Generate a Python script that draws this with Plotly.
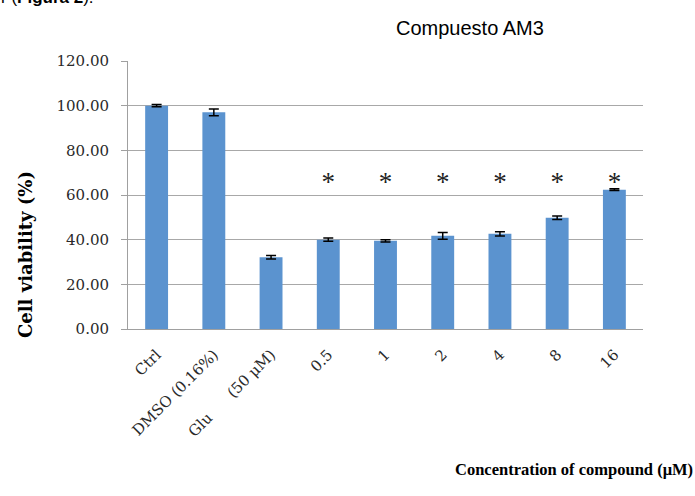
import plotly.graph_objects as go

categories = ["Ctrl", "DMSO (0.16%)", "Glu\u00a0\u00a0\u00a0\u00a0\u00a0\u00a0(50 μM)", "0.5", "1", "2", "4", "8", "16"]
viability = [100.0, 97.0, 32.1, 40.0, 39.5, 41.7, 42.6, 49.8, 62.4]
errors = [0.5, 1.5, 0.8, 0.7, 0.5, 1.5, 1.0, 0.8, 0.4]
star_categories = ["0.5", "1", "2", "4", "8", "16"]
star_y = [65.0, 65.0, 65.0, 65.0, 65.0, 65.0]
y_ticks = [0, 20, 40, 60, 80, 100, 120]

serif = "DejaVu Serif, Liberation Serif, serif"
serif_title = "Liberation Serif, DejaVu Serif, serif"
sans = "Liberation Sans, Arial, sans-serif"

fig = go.Figure()
fig.add_trace(go.Bar(
    x=categories, y=viability,
    marker=dict(color="#5B93CF", line=dict(width=0)),
    width=0.4,
    error_y=dict(type="data", array=errors, visible=True, color="black", thickness=1.5, width=5),
    showlegend=False,
))
fig.add_trace(go.Scatter(
    x=star_categories, y=star_y, mode="text", text=["*"] * len(star_categories),
    textposition="middle center",
    textfont=dict(family="Liberation Serif, serif", size=27, color="#222"),
    showlegend=False,
))

fig.update_layout(
    width=695, height=496,
    margin=dict(l=128, r=52, t=61, b=167),
    paper_bgcolor="white", plot_bgcolor="white",
    bargap=0.6,
    xaxis=dict(
        type="category", categoryorder="array", categoryarray=categories,
        tickangle=-45, showline=True, linecolor="#A0A0A0", linewidth=1,
        ticks="", tickfont=dict(family=serif, size=15, color="#2a2a2a"),
        ticklabelstandoff=10,
        showgrid=False,
    ),
    yaxis=dict(
        range=[0, 120], tickvals=y_ticks, tickformat=".2f",
        showline=True, linecolor="#A0A0A0", linewidth=1,
        ticks="outside", ticklen=6, tickcolor="#A0A0A0",
        ticklabelstandoff=9,
        showgrid=True, gridcolor="#A8A8A8", gridwidth=1,
        tickfont=dict(family=serif, size=15, color="#2a2a2a"),
        zeroline=False,
    ),
    annotations=[
        dict(text="Compuesto AM3", x=0.664, y=1.123, xref="paper", yref="paper",
             showarrow=False, font=dict(family=sans, size=20, color="black"),
             xanchor="center", yanchor="middle"),
        dict(text="r (<b>Figura 2</b>).", x=-0.251, y=1.194, xref="paper", yref="paper",
             showarrow=False, font=dict(family=sans, size=17, color="black"),
             xanchor="left", yanchor="bottom"),
        dict(text="<b>Concentration of compound (μM)</b>", x=1.1, y=-0.526, xref="paper", yref="paper",
             showarrow=False, font=dict(family=serif_title, size=16.5, color="black"),
             xanchor="right", yanchor="middle"),
        dict(text="<b>Cell viability (%)</b>", x=-0.2, y=0.276, xref="paper", yref="paper",
             showarrow=False, textangle=-90, font=dict(family=serif, size=18, color="black"),
             xanchor="center", yanchor="middle"),
    ],
)

fig.write_html("out.html", config={"displayModeBar": False},
               post_script="document.body.style.margin='0';")
